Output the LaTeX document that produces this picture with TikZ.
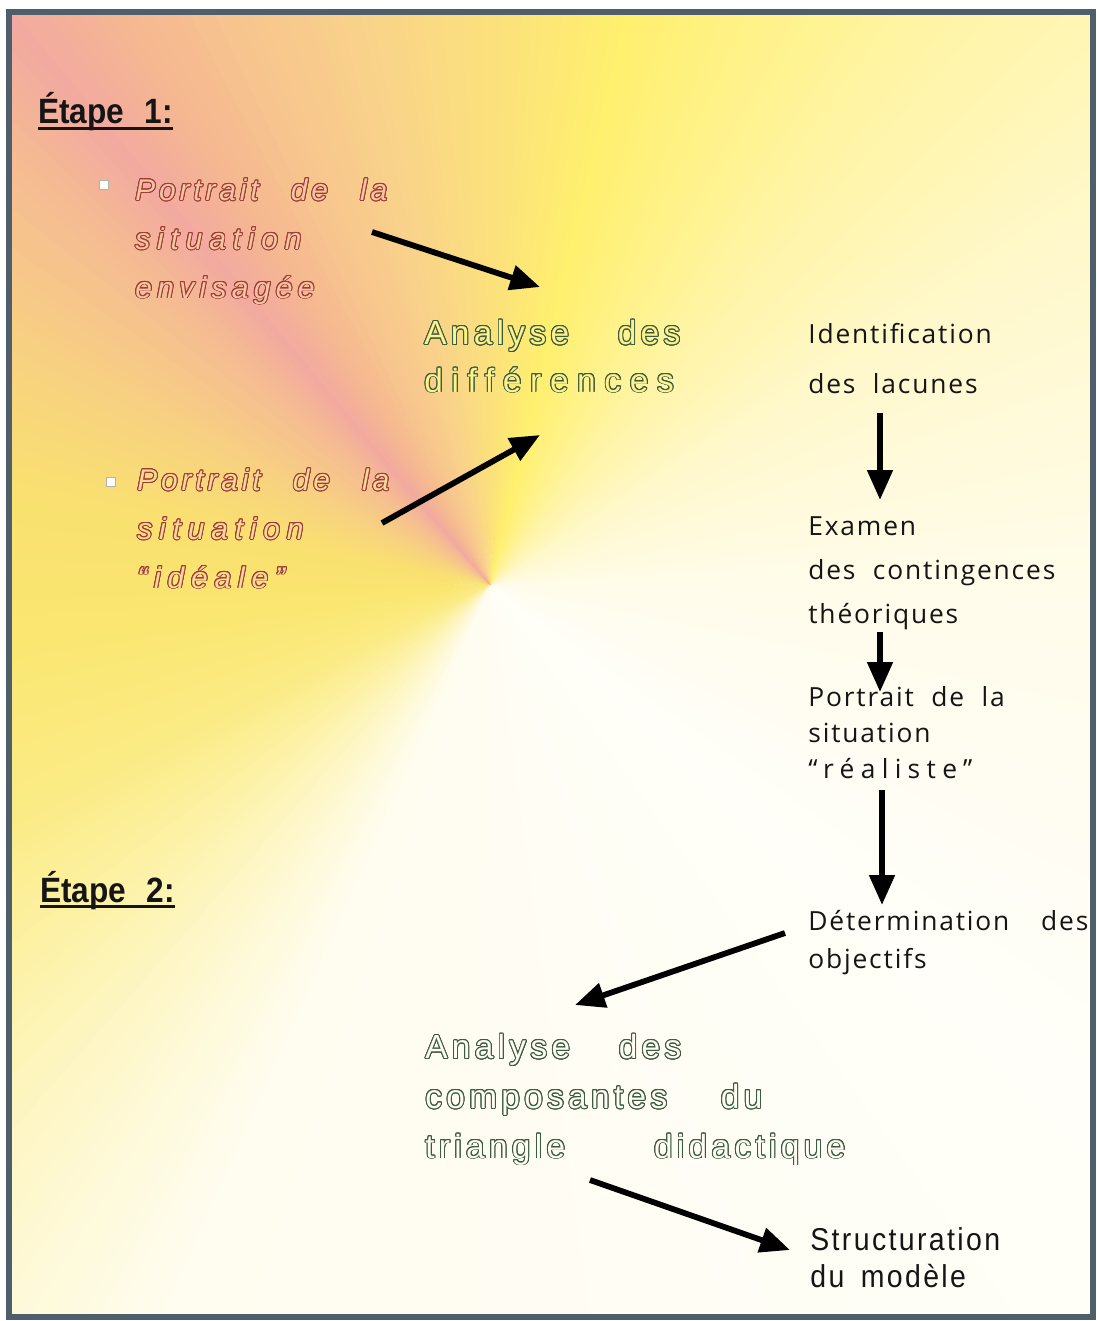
\documentclass[tikz,border=0pt]{standalone}
\usepackage{fontspec}
\usepackage{xcolor}
\usepackage{contour}
\usetikzlibrary{arrows.meta}
\setmainfont{Liberation Sans}
\newfontfamily\etapefont[FakeStretch=0.9]{Liberation Sans}
\newfontfamily\colfont[LetterSpace=7,WordSpace=2]{Open Sans}
\newfontfamily\creuxfont[LetterSpace=13]{Liberation Sans}
\newfontfamily\structfont[FakeStretch=0.9,LetterSpace=7.5,WordSpace=1.6]{Liberation Sans}
% teintes du fond (degrade conique)
\definecolor{fa}{HTML}{FFFCEA}
\definecolor{fb}{HTML}{FFF8CC}
\definecolor{fc}{HTML}{FFF4A4}
\definecolor{fd}{HTML}{FFF06E}
\definecolor{fe}{HTML}{FBE07C}
\definecolor{ff}{HTML}{F9D38A}
\definecolor{fg}{HTML}{F7C48E}
\definecolor{fh}{HTML}{F5B890}
\definecolor{fi}{HTML}{F2AAA0}
\definecolor{fj}{HTML}{F5BC92}
\definecolor{fk}{HTML}{F7D082}
\definecolor{fl}{HTML}{F9E070}
\definecolor{fm}{HTML}{FAE670}
\definecolor{fn}{HTML}{FBEB84}
\definecolor{fo}{HTML}{FDF2AA}
\definecolor{fp}{HTML}{FEF8D2}
\definecolor{fq}{HTML}{FFFDF0}
\definecolor{fr}{HTML}{FFFEF8}
\definecolor{cadre}{HTML}{4E5F6B}
\definecolor{brique}{HTML}{A03E36}
\definecolor{sapin}{HTML}{3C5C42}
\definecolor{roseclair}{HTML}{F5C6A4}
\definecolor{jauneclair}{HTML}{F8DA98}
\definecolor{jaunevif}{HTML}{FFF288}
\definecolor{creme}{HTML}{FFFDF4}
\definecolor{encre}{HTML}{151515}
\newlength\pxu
\setlength\pxu{0.02cm}
\contourlength{0.55pt}
\contournumber{20}
\newcommand{\ligne}[2]{\makebox[#1][s]{#2}}
\newcommand{\creuxR}[2]{{\color{#1}\contour{brique}{#2}}}
\newcommand{\creuxV}[2]{{\color{#1}\contour{sapin}{#2}}}
\tikzset{
  titre/.style={anchor=base west, inner sep=0pt, text=encre,
    font=\etapefont\bfseries\fontsize{20}{24}\selectfont},
  texte/.style={anchor=base west, inner sep=0pt, align=left},
  portrait/.style={texte, font=\creuxfont\itshape\fontsize{17}{27.8}\selectfont},
  analyse/.style={texte, font=\creuxfont\fontsize{19}{27}\selectfont},
  colonne/.style={texte, text=encre, font=\colfont\fontsize{15}{25}\selectfont},
  puce/.style={rectangle, draw=gray!60, fill=white, line width=0.5pt,
    minimum size=5pt, inner sep=0pt},
  fleche/.style={-{Triangle[length=17pt,width=14pt]}, line width=3.3pt, color=black},
  soul/.style={line width=1.7pt, color=encre}
}
\begin{document}
\begin{tikzpicture}[x=0.02cm, y=-0.02cm]
  \useasboundingbox (0,0) rectangle (1096,1321);
  % fond
  \begin{scope}
    \clip (9,12) rectangle (1093,1317);
    \coordinate (centre) at (490,585);
    \foreach \ta/\tb/\ca/\cb in {0/30/fa/fb, 30/52/fb/fc, 52/76/fc/fd, 76/90/fd/fe,
        90/102/fe/ff, 102/114/ff/fg, 114/122/fg/fh, 122/130/fh/fi, 130/138/fi/fj,
        138/152/fj/fk, 152/168/fk/fl, 168/185/fl/fm, 185/205/fm/fn, 205/220/fn/fo,
        220/234/fo/fp, 234/246/fp/fq, 246/320/fq/fr, 320/360/fr/fa}{
      \foreach \ang in {\ta,...,\tb}{
        \pgfmathtruncatemacro{\pct}{100*(\ang-\ta)/(\tb-\ta)}
        \colorlet{teinte}{\cb!\pct!\ca}
        \fill[teinte] (centre) -- +(-\ang+0.2:2000) -- +(-\ang-1.3:2000) -- cycle;
      }
    }
  \end{scope}
  \draw[cadre, line width=2.9pt] (9,12) rectangle (1093,1317);

  % Etape 1
  \node[titre] (etapeA) at (38,124) {Étape\hspace{20\pxu}1:};
  \draw[soul] ([yshift=-2.5pt]etapeA.base west) -- ([yshift=-2.5pt]etapeA.base east);

  \node[puce] (puceA) at (104,185) {};
  \node[portrait] (envisagee) at (135,298) {%
    \creuxR{roseclair}{\ligne{252\pxu}{Portrait de la}}\\
    \creuxR{roseclair}{\addfontfeature{LetterSpace=23}situation}\\
    \creuxR{roseclair}{\addfontfeature{LetterSpace=18}envisagée}};

  \node[puce] (puceB) at (111,482) {};
  \node[portrait] (ideale) at (137,588) {%
    \creuxR{jauneclair}{\ligne{252\pxu}{Portrait de la}}\\
    \creuxR{jauneclair}{\addfontfeature{LetterSpace=23}situation}\\
    \creuxR{jauneclair}{\addfontfeature{LetterSpace=23}“idéale”}};

  \node[analyse] (differences) at (424,392) {%
    \creuxV{jaunevif}{\ligne{256\pxu}{Analyse des}}\\
    \creuxV{jaunevif}{\addfontfeature{LetterSpace=26}différences}};

  % colonne de droite
  \node[colonne, font=\colfont\fontsize{15}{28.3}\selectfont] (lacunes) at (808,393)
    {Identification\\des lacunes};
  \node[colonne] (contingences) at (808,623)
    {Examen\\des contingences\\théoriques};
  \node[colonne, font=\colfont\fontsize{15}{20.4}\selectfont] (realiste) at (808,778)
    {Portrait de la\\situation\\{\addfontfeature{LetterSpace=24}“réaliste”}};

  % Etape 2
  \node[titre] (etapeB) at (40,902) {Étape\hspace{20\pxu}2:};
  \draw[soul] ([yshift=-2.5pt]etapeB.base west) -- ([yshift=-2.5pt]etapeB.base east);

  \node[colonne, font=\colfont\fontsize{15}{21.5}\selectfont] (objectifs) at (808,968)
    {\ligne{280\pxu}{Détermination des}\\objectifs};

  \node[analyse, font=\creuxfont\fontsize{19}{28.3}\selectfont] (composantes) at (425,1158) {%
    \creuxV{creme}{\ligne{256\pxu}{Analyse des}}\\
    \creuxV{creme}{\ligne{337\pxu}{composantes du}}\\
    \creuxV{creme}{\ligne{420\pxu}{triangle didactique}}};

  \node[texte, text=encre, font=\structfont\fontsize{18}{21}\selectfont] (structuration)
    at (810,1287) {Structuration\\du modèle};

  % fleches
  \draw[fleche] ([shift={(237,-66)}]envisagee.base west) -- ([shift={(116,-105)}]differences.base west);
  \draw[fleche] ([shift={(245,-65)}]ideale.base west) -- ([shift={(116,43)}]differences.base west);
  \draw[fleche] ([shift={(72,20)}]lacunes.base west) -- ([shift={(72,-123)}]contingences.base west);
  \draw[fleche] ([shift={(72,9)}]contingences.base west) -- ([shift={(72,-86)}]realiste.base west);
  \draw[fleche] ([shift={(74,12)}]realiste.base west) -- ([shift={(74,-63)}]objectifs.base west);
  \draw[fleche] ([shift={(-23,-35)}]objectifs.base west) -- ([shift={(150,-153)}]composantes.base west);
  \draw[fleche] ([shift={(165,22)}]composantes.base west) -- ([shift={(-20,-37)}]structuration.base west);
\end{tikzpicture}
\end{document}
